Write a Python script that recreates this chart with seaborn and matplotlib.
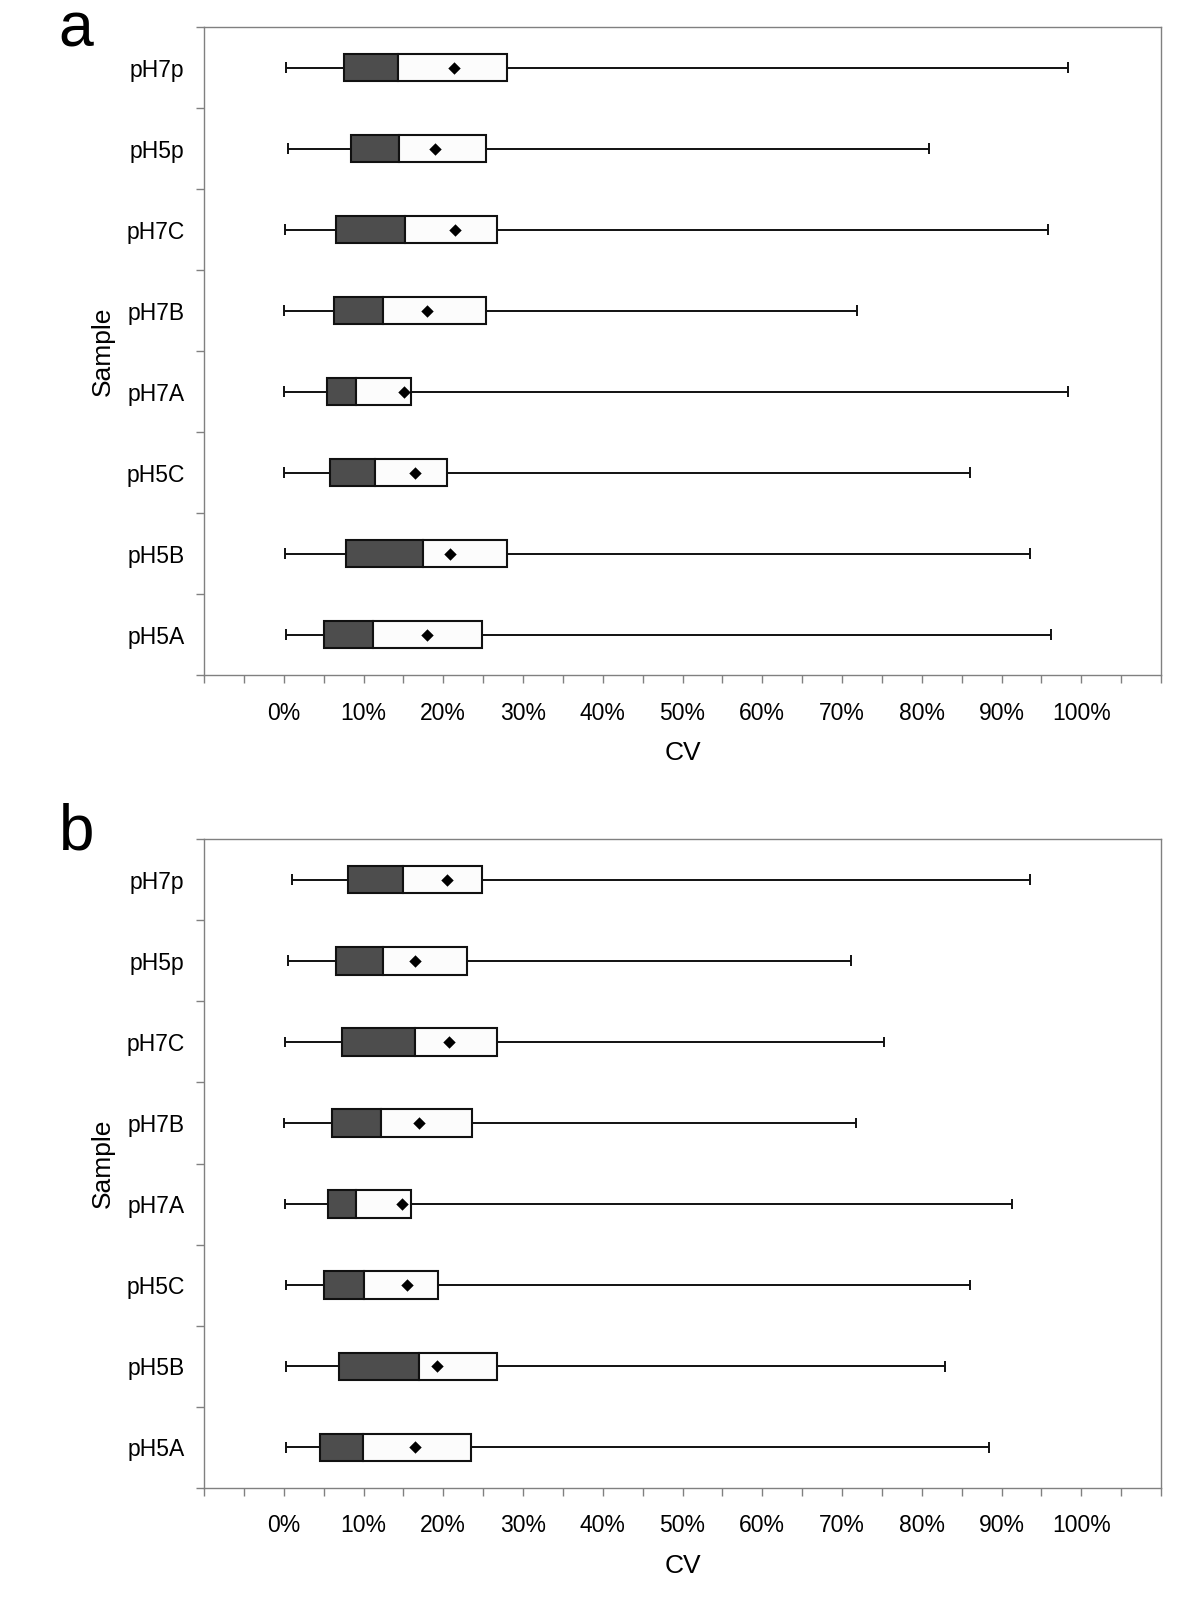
import numpy as np
import pandas as pd
import seaborn as sns
import matplotlib.pyplot as plt

# two panels of CV distributions per sample: min-max whiskers,
# dark box Q1-median, light box median-Q3, diamond = mean

samples = ['pH7p', 'pH5p', 'pH7C', 'pH7B', 'pH7A', 'pH5C', 'pH5B', 'pH5A']

# panel a (values in %)
a_min = [0.3, 0.5, 0.2, 0.05, 0.0, 0.0, 0.1, 0.3]
a_q1 = [7.5, 8.4, 6.6, 6.3, 5.4, 5.75, 7.8, 5.0]
a_med = [14.3, 14.4, 15.2, 12.5, 9.0, 11.5, 17.5, 11.25]
a_q3 = [28.0, 25.3, 26.7, 25.4, 16.0, 20.5, 28.0, 24.8]
a_mean = [21.4, 19.0, 21.5, 18.0, 15.1, 16.5, 20.8, 18.0]
a_max = [98.3, 80.9, 95.8, 71.9, 98.3, 86.1, 93.6, 96.2]

# panel b (values in %)
b_min = [1.0, 0.5, 0.2, 0.0, 0.1, 0.3, 0.25, 0.3]
b_q1 = [8.1, 6.6, 7.3, 6.05, 5.5, 5.05, 6.9, 4.6]
b_med = [14.9, 12.4, 16.5, 12.2, 9.0, 10.1, 16.9, 9.9]
b_q3 = [24.8, 22.95, 26.7, 23.55, 16.0, 19.4, 26.7, 23.5]
b_mean = [20.5, 16.4, 20.7, 17.0, 14.8, 15.4, 19.2, 16.4]
b_max = [93.6, 71.1, 75.3, 71.7, 91.3, 86.1, 82.9, 88.4]

sns.set_style('white')
plt.rcParams['font.family'] = ['Liberation Sans', 'DejaVu Sans']
plt.rcParams['text.color'] = 'black'
plt.rcParams['axes.labelcolor'] = 'black'
plt.rcParams['xtick.labelcolor'] = 'black'
plt.rcParams['ytick.labelcolor'] = 'black'

dark = '#4d4d4d'
light = '#fcfcfc'
edge = '#111111'
spine_col = '#808080'


def draw_panel(ax, mn, q1, med, q3, mean, mx):
    df = pd.DataFrame({'sample': samples, 'min': mn, 'q1': q1, 'med': med,
                       'q3': q3, 'mean': mean, 'max': mx})
    y = np.arange(len(df))
    # whiskers
    ax.hlines(y, df['min'], df['q1'], color=edge, lw=1.4, zorder=1)
    ax.hlines(y, df['q3'], df['max'], color=edge, lw=1.4, zorder=1)
    ax.vlines(df['min'], y - 0.065, y + 0.065, color=edge, lw=1.4, zorder=1)
    ax.vlines(df['max'], y - 0.065, y + 0.065, color=edge, lw=1.4, zorder=1)
    # boxes
    ax.barh(y, df['med'] - df['q1'], left=df['q1'], height=0.34,
            color=dark, edgecolor=edge, linewidth=1.5, zorder=2)
    ax.barh(y, df['q3'] - df['med'], left=df['med'], height=0.34,
            color=light, edgecolor=edge, linewidth=1.5, zorder=2)
    # means
    sns.scatterplot(x='mean', y=y, data=df, marker='D', s=40, color='black',
                    edgecolor='black', linewidth=0, zorder=3, ax=ax, legend=False)

    ax.set_xlim(-10, 110)
    ax.set_ylim(len(df) - 0.5, -0.5)
    ticks = np.arange(-10, 111, 5)
    ax.set_xticks(ticks)
    ax.set_xticklabels([f'{t}%' if (t % 10 == 0 and 0 <= t <= 100) else '' for t in ticks])
    ax.set_yticks(y)
    ax.set_yticklabels(samples)
    ax.set_yticks(np.arange(-0.5, len(df), 1.0), minor=True)
    ax.tick_params(axis='x', which='major', length=6, width=1, color=spine_col,
                   direction='out', pad=13, labelsize=16.5, bottom=True)
    ax.tick_params(axis='y', which='major', length=0, pad=14, labelsize=16.5)
    ax.tick_params(axis='y', which='minor', length=6, width=1, color=spine_col,
                   direction='out', left=True)
    for s in ax.spines.values():
        s.set_color(spine_col)
        s.set_linewidth(1)
    ax.set_xlabel('CV', fontsize=19, labelpad=12)
    ax.set_ylabel('Sample', fontsize=19, labelpad=8)


fig = plt.figure(figsize=(12, 16), dpi=100)
ax1 = fig.add_axes([0.17, 0.578, 0.7975, 0.405])
ax2 = fig.add_axes([0.17, 0.07, 0.7975, 0.4056])

draw_panel(ax1, a_min, a_q1, a_med, a_q3, a_mean, a_max)
draw_panel(ax2, b_min, b_q1, b_med, b_q3, b_mean, b_max)

fig.text(0.049, 0.971, 'a', fontsize=45, va='baseline', ha='left')
fig.text(0.049, 1 - 849 / 1600, 'b', fontsize=46, va='baseline', ha='left')

fig.savefig('out.png', dpi=100, facecolor='white')
